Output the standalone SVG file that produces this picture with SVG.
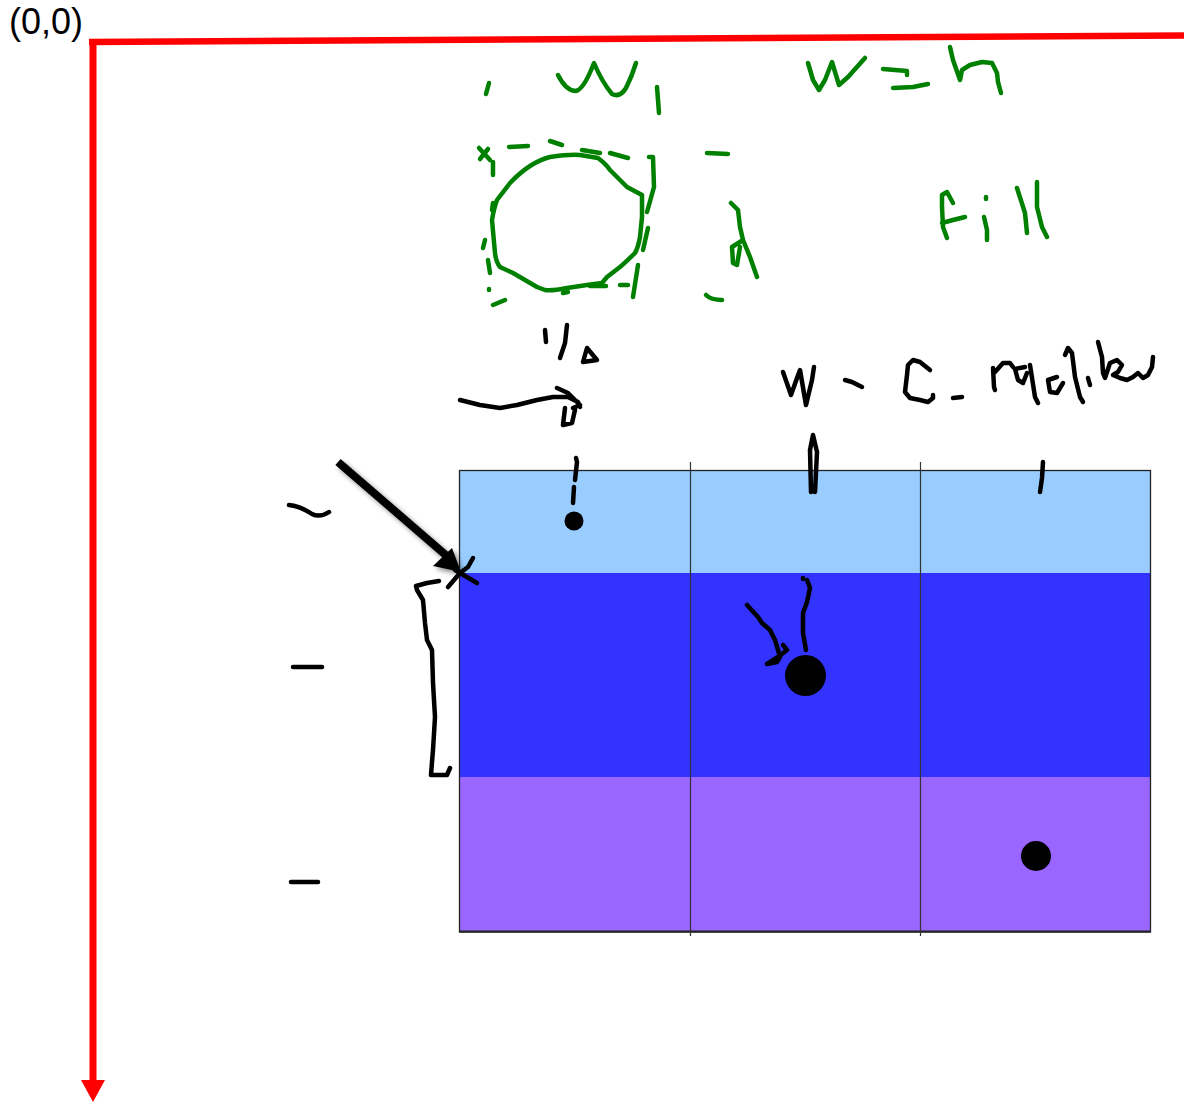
<svg xmlns="http://www.w3.org/2000/svg" width="1184" height="1102" viewBox="0 0 1184 1102">
<style>
.g{fill:none;stroke:#008000;stroke-width:4.5;stroke-linecap:round;stroke-linejoin:round}
.k{fill:none;stroke:#000;stroke-width:4.5;stroke-linecap:round;stroke-linejoin:round}
.col{stroke:#333;stroke-width:1.2}
.lbl{font-family:"Liberation Sans",Arial,sans-serif;font-size:36px;fill:#000}
</style>
<defs>
<filter id="sh" x="-20%" y="-20%" width="150%" height="150%">
<feDropShadow dx="3" dy="3" stdDeviation="2.5" flood-color="#000" flood-opacity="0.45"/>
</filter>
</defs>
<rect width="1184" height="1102" fill="#fff"/>

<g id="axes">
<text class="lbl" x="9" y="34">(0,0)</text>
<path d="M89,42 L1184,35.5" stroke="#ff0000" stroke-width="6.5" fill="none"/>
<path d="M93,39 L93,1082" stroke="#ff0000" stroke-width="7" fill="none"/>
<polygon points="81,1080 105,1080 93,1102" fill="#ff0000"/>
</g>

<g id="grid">
<rect x="459.5" y="470.5" width="691" height="103" fill="#99ccff"/>
<rect x="459.5" y="573" width="691" height="204" fill="#3333ff"/>
<rect x="459.5" y="777" width="691" height="155" fill="#9966ff"/>
<rect x="459.5" y="470.5" width="691" height="461.5" fill="none" stroke="#222" stroke-width="1.3"/>
<line x1="459.5" y1="931.5" x2="1150.5" y2="931.5" stroke="#222" stroke-width="2"/>
<line class="col" x1="690.5" y1="462" x2="690.5" y2="936"/>
<line class="col" x1="920.5" y1="462" x2="920.5" y2="936"/>
<circle cx="574" cy="521" r="9.5" fill="#000"/>
<circle cx="805.5" cy="675.5" r="20.5" fill="#000"/>
<circle cx="1036" cy="856" r="15" fill="#000"/>
</g>

<g id="green-ink">
<path class="g" d="M489,83 L486,94"/>
<path class="g" d="M558,75 Q566,91 576,91 Q584,89 594,63 Q602,82 612,94 Q620,98 626,88 Q632,76 636,63"/>
<path class="g" d="M657,87 L659,113"/>
<path class="g" d="M479,148 L490,160 M488,149 L480,159 M493,162 L493,175"/>
<path class="g" d="M509,147 L528,146 M550,141 L562,145 M582,150 L600,153 M610,153 L628,158"/>
<path class="g" d="M649,157 L653,157 L654,187 L647,212 M648,228 L643,250"/>
<path class="g" d="M493,203 L492,210 M485,240 L483,248 M488,260 L490,273 M489,289 L489,290 M493,305 L505,300"/>
<path class="g" d="M510,183 Q530,162 550,157 Q570,154 580,155 L598,158 Q606,164 610,170 L627,187 L642,195 L642,217 L640,237 Q638,248 635,253 Q626,262 620,267 L607,277 L602,283 L587,285 L567,288 Q552,291 545,290 L537,287 L513,273 L500,267 Q496,262 495,253 L492,220 Q494,208 497,200 Z"/>
<path class="g" d="M563,293 L568,292 M590,286 L606,286 M620,285 L628,285 M638,265 L633,297"/>
<path class="g" d="M707,153 L728,154"/>
<path class="g" d="M731,203 L738,210 L740,227 L743,240 L750,257 L757,277 M743,240 L732,247 L733,263 L737,265 L740,247"/>
<path class="g" d="M706,295 Q711,300 722,300"/>
<path class="g" d="M808,63 L813,80 L819,90 L825,80 L832,62 L839,85 L848,77 L865,58"/>
<path class="g" d="M883,69 L907,71 L907,75 M893,88 L913,87 L928,84"/>
<path class="g" d="M950,47 L953,60 L960,80 L962,70 L970,65 L982,62 L992,63 L997,73 L998,82 L1001,93"/>
<path class="g" d="M953,203 L947,192 L942,195 L942,207 L943,227 L947,238 M942,223 L953,220 L965,217"/>
<path class="g" d="M986,197 L986,199 M984,217 L987,230 L987,240"/>
<path class="g" d="M1017,188 L1025,213 L1027,233 M1037,182 L1037,207 L1042,227 L1047,237"/>
</g>

<g id="black-ink">
<path class="k" d="M545,330 L546,342 M567,325 L565,343 L560,358"/>
<path class="k" d="M583,362 L587,348 L597,360 Z" fill="#000"/>
<path class="k" stroke-width="5" d="M460,400 L480,405 L500,408 L517,405 L537,400 L553,397 L568,397 L578,402 L580,407 M557,388 L568,393 L580,405 L573,408 M565,408 L563,425 L572,423 L575,410"/>
<path class="k" d="M783,372 L791,395 L797,378 L800,370 L806,405 L812,380 L814,367"/>
<path class="k" d="M845,380 L852,382 L862,387"/>
<path class="k" d="M930,370 L920,362 L913,360 L908,365 L907,375 L905,392 L910,398 L920,400 L928,402 L933,398 L933,395"/>
<path class="k" d="M953,398 L962,397"/>
<path class="k" d="M993,368 L994,387 L995,390 M995,372 L1003,363 L1010,363 L1013,367"/>
<path class="k" d="M1025,367 L1015,369 L1018,380 L1023,383 L1027,373 M1030,365 L1035,397 L1038,403"/>
<path class="k" d="M1057,377 L1048,380 L1050,392 L1057,393 L1063,383 M1065,355 L1068,348 L1072,353 L1075,377 L1080,397 L1083,402"/>
<path class="k" d="M1088,378 L1090,385"/>
<path class="k" d="M1098,342 L1102,357 L1103,373 L1105,378 L1110,363 L1117,360 L1122,365 L1118,372 L1113,375 L1120,378 L1127,380 L1133,377 L1138,373 L1143,378 L1148,375 L1152,367 L1153,357"/>
<path class="k" d="M576,458 L577,462 L575,480" stroke-width="5.5"/>
<path class="k" d="M574,487 L573,503"/>
<path class="k" d="M811,492 L810,450 L813,435 L817,452 L815,492" stroke-width="5"/>
<path class="k" d="M1043,462 L1042,478 L1040,492"/>
<g filter="url(#sh)">
<path d="M338,462 L448,557" stroke="#000" stroke-width="8" fill="none"/>
<polygon points="433,566 452,548 461,572" fill="#000"/>
</g>
<path class="k" d="M473,558 L468,567 L460,573 L448,587 M455,570 L477,583"/>
<path class="k" d="M439,581 L427,583 L416,586 L417,590 L423,600 L425,623 L427,640 L432,650 L433,683 L435,717 L433,750 L432,762 L431,775 L447,775 L450,768"/>
<path class="k" d="M289,505 Q300,506 312,514 Q320,518 329,512"/>
<path class="k" d="M293,667 L322,667"/>
<path class="k" d="M291,882 L318,882"/>
<path class="k" d="M747,605 L758,617 L762,623 L770,630 L775,640 L778,650 L780,657 M783,645 L787,650 L778,657 L767,664 L777,662 L780,657"/>
<path class="k" d="M803,578 L803,579 M807,580 L810,588 L807,602 L803,613 L803,633 L806,650"/>
</g>
</svg>
